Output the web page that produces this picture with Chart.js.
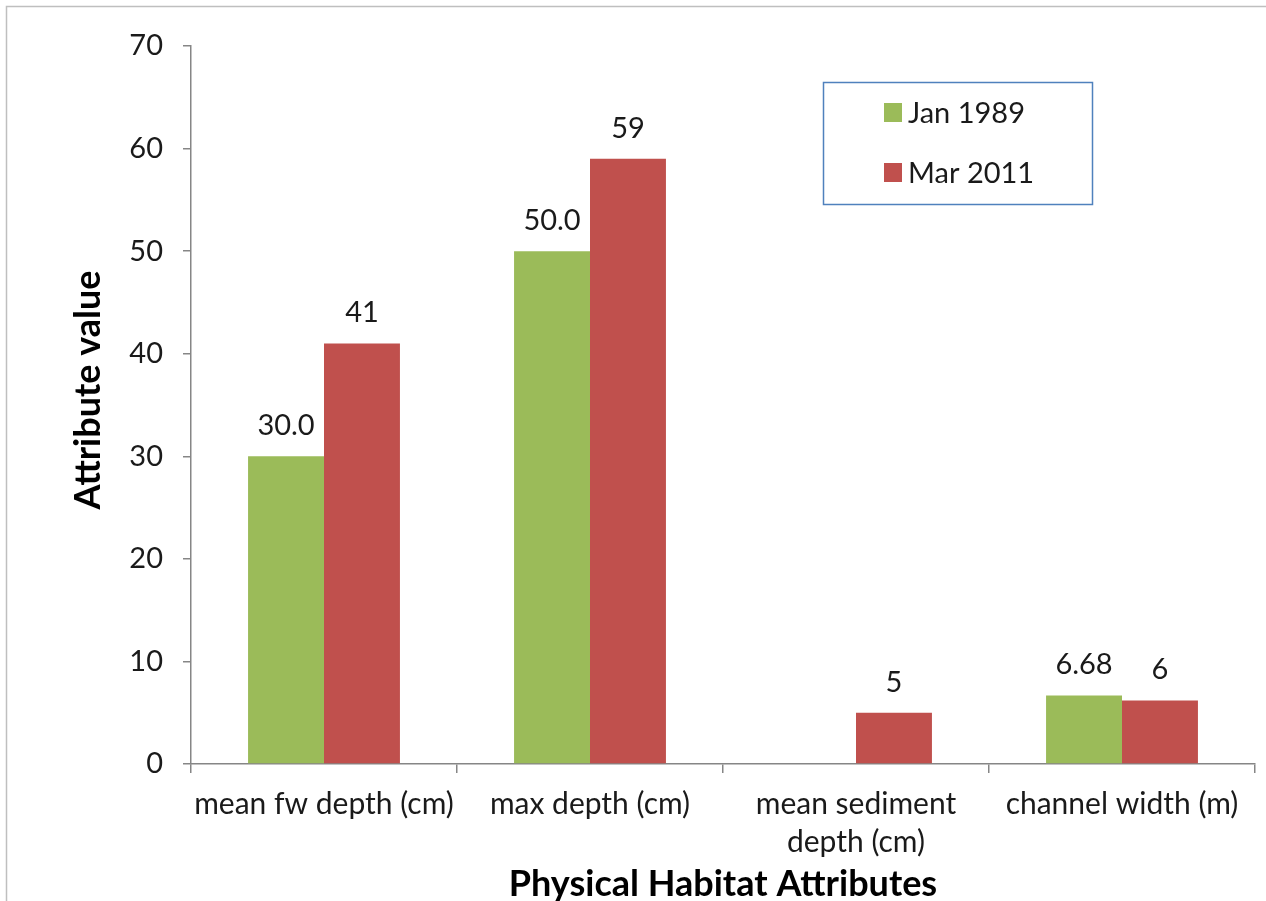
<!DOCTYPE html>
<html><head><meta charset="utf-8">
<script src="https://cdn.jsdelivr.net/npm/chart.js@4"></script>
<style>
html,body{margin:0;padding:0;background:#fff;}
#wrap{position:relative;width:1266px;height:901px;}
canvas{display:block;}
</style></head>
<body><div id="wrap"><canvas id="c" width="1266" height="901"></canvas></div>
<script>
const categories = ["mean fw depth (cm)", "max depth (cm)", ["mean sediment", "depth (cm)"], "channel width (m)"];
const seriesNames = ["Jan 1989", "Mar 2011"];
const jan1989 = [30, 50, null, 6.68];
const mar2011 = [41, 59, 5, 6.2];
const jan1989Labels = ["30.0", "50.0", "", "6.68"];
const mar2011Labels = ["41", "59", "5", "6"];
const yTicks = [0, 10, 20, 30, 40, 50, 60, 70];

const FONT = "Lato, 'Open Sans', sans-serif";
const GREEN = "#9BBB59", RED = "#C0504D", AXIS = "#868686", TEXT = "#1a1a1a";
const allLabels = [jan1989Labels, mar2011Labels];

const extras = {
  id: "extras",
  beforeDraw(chart) {
    const ctx = chart.ctx;
    ctx.save();
    ctx.fillStyle = "#fff";
    ctx.fillRect(0, 0, chart.width, chart.height);
    ctx.strokeStyle = "#bfbfbf";
    ctx.lineWidth = 1.5;
    ctx.beginPath();
    ctx.moveTo(6.5, chart.height);
    ctx.lineTo(6.5, 6.5);
    ctx.lineTo(chart.width, 6.5);
    ctx.stroke();
    ctx.restore();
  },
  afterDraw(chart) {
    const ctx = chart.ctx;
    ctx.save();
    // value labels
    ctx.font = "29px " + FONT;
    ctx.fillStyle = TEXT;
    ctx.textAlign = "center";
    ctx.textBaseline = "alphabetic";
    chart.data.datasets.forEach((ds, di) => {
      const meta = chart.getDatasetMeta(di);
      meta.data.forEach((bar, i) => {
        const t = allLabels[di][i];
        if (!t || ds.data[i] == null) return;
        ctx.fillText(t, bar.x, bar.y - 21);
      });
    });
    // axis titles
    ctx.font = "bold 36px " + FONT;
    ctx.fillStyle = "#000";
    ctx.textAlign = "center";
    ctx.textBaseline = "middle";
    const ca = chart.chartArea;
    ctx.fillText("Physical Habitat Attributes", (ca.left + ca.right) / 2, 884);
    ctx.save();
    ctx.translate(88, 390);
    ctx.rotate(-Math.PI / 2);
    ctx.fillText("Attribute value", 0, 0);
    ctx.restore();
    // legend
    ctx.strokeStyle = "#4F81BD";
    ctx.lineWidth = 1.5;
    ctx.strokeRect(823.5, 82.5, 269, 122);
    const rows = [113, 173];
    ctx.font = "29px " + FONT;
    ctx.textAlign = "left";
    chart.data.datasets.forEach((ds, di) => {
      ctx.fillStyle = ds.backgroundColor;
      ctx.fillRect(884, rows[di] - 10, 18, 19);
      ctx.fillStyle = TEXT;
      ctx.fillText(ds.label, 908, rows[di] + 1);
    });
    ctx.restore();
  }
};

new Chart(document.getElementById("c"), {
  type: "bar",
  data: {
    labels: categories,
    datasets: [
      { label: seriesNames[0], data: jan1989, backgroundColor: GREEN },
      { label: seriesNames[1], data: mar2011, backgroundColor: RED }
    ]
  },
  options: {
    responsive: false,
    animation: false,
    devicePixelRatio: 1,
    layout: { padding: { top: 46, right: 11, left: 0, bottom: 0 } },
    datasets: { bar: { categoryPercentage: 0.571, barPercentage: 1.0 } },
    plugins: { legend: { display: false }, tooltip: { enabled: false } },
    scales: {
      x: {
        grid: { drawOnChartArea: false, offset: true, tickLength: 9, color: AXIS, lineWidth: 1.5 },
        border: { color: AXIS, width: 1.5 },
        ticks: { font: { family: FONT, size: 30, lineHeight: 1.27 }, color: TEXT, padding: 12, maxRotation: 0, autoSkip: false },
        afterFit(s) { s.height = 137; }
      },
      y: {
        min: 0, max: 70,
        afterBuildTicks(s) { s.ticks = yTicks.map(v => ({ value: v })); },
        grid: { drawOnChartArea: false, tickLength: 8, color: AXIS, lineWidth: 1.5 },
        border: { color: AXIS, width: 1.5 },
        ticks: { font: { family: FONT, size: 29 }, color: TEXT, padding: 20 },
        afterFit(s) { s.width = 191; }
      }
    }
  },
  plugins: [extras]
});
</script></body></html>
